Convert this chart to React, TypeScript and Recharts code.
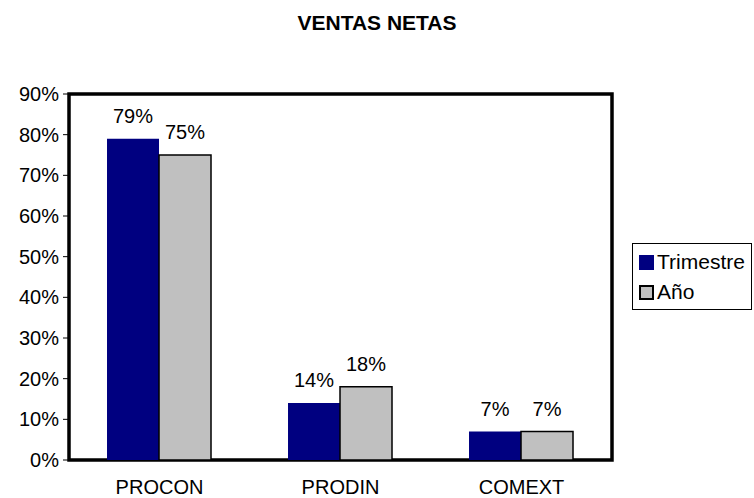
import { BarChart, Bar, XAxis, YAxis, LabelList, ReferenceArea, Legend } from "recharts";

const categories = ["PROCON", "PRODIN", "COMEXT"];
const trimestre = [0.79, 0.14, 0.07];
const anio = [0.75, 0.18, 0.07];
const yTicks = [0, 0.1, 0.2, 0.3, 0.4, 0.5, 0.6, 0.7, 0.8, 0.9];

const data = categories.map((name, i) => ({ name, trimestre: trimestre[i], anio: anio[i] }));

const FONT = "'Liberation Sans', Arial, sans-serif";
const pct = (v: number) => `${Math.round(v * 100)}%`;

const EmptyTick = () => <g />;

function LegendBox() {
  const items = [
    { label: "Trimestre", fill: "#000080", stroke: "#000080" },
    { label: "Año", fill: "#C0C0C0", stroke: "#000" },
  ];
  return (
    <div
      style={{
        border: "1px solid #000",
        background: "#fff",
        width: 120,
        height: 67,
        boxSizing: "border-box",
        padding: "3px 0 0 6px",
        fontFamily: FONT,
        fontSize: 21,
        color: "#000",
        whiteSpace: "nowrap",
      }}
    >
      {items.map((it) => (
        <div key={it.label} style={{ display: "flex", alignItems: "center", height: 30 }}>
          <span
            style={{
              display: "inline-block",
              width: 11,
              height: 11,
              background: it.fill,
              border: `2px solid ${it.stroke}`,
              marginRight: 3,
            }}
          />
          {it.label}
        </div>
      ))}
    </div>
  );
}

export default function App() {
  return (
    <div style={{ position: "absolute", left: 0, top: 0, width: 754, height: 498, background: "#fff" }}>
      <div
        style={{
          position: "absolute",
          left: 0,
          top: 12,
          width: 754,
          textAlign: "center",
          fontFamily: FONT,
          fontWeight: "bold",
          fontSize: 21,
          lineHeight: "22px",
        }}
      >
        VENTAS NETAS
      </div>
      <BarChart
        width={754}
        height={498}
        data={data}
        margin={{ top: 94, right: 20, left: 0, bottom: 0 }}
        barCategoryGap="21%"
        barGap={0}
      >
        <XAxis
          xAxisId="edges"
          type="number"
          domain={[0, 3]}
          ticks={[0, 1, 2, 3]}
          height={0}
          axisLine={false}
          tickSize={6}
          tickLine={{ stroke: "#000", strokeWidth: 1 }}
          tick={EmptyTick}
        />
        <XAxis
          dataKey="name"
          height={38}
          axisLine={false}
          tickLine={false}
          tick={{ fill: "#000", fontSize: 20, fontFamily: FONT }}
          tickMargin={14}
        />
        <YAxis
          width={69}
          domain={[0, 0.9]}
          ticks={yTicks}
          tickFormatter={pct}
          axisLine={false}
          tickSize={6}
          tickMargin={4}
          tickLine={{ stroke: "#000", strokeWidth: 1 }}
          tick={{ fill: "#000", fontSize: 20, fontFamily: FONT }}
        />
        <Legend
          layout="vertical"
          align="right"
          verticalAlign="top"
          wrapperStyle={{ left: 632, top: 243, width: 122 }}
          content={() => <LegendBox />}
        />
        <Bar dataKey="trimestre" name="Trimestre" fill="#000080" isAnimationActive={false}>
          <LabelList dataKey="trimestre" position="top" offset={16} formatter={(v: any) => pct(Number(v))} fill="#000" fontSize={20} fontFamily={FONT} />
        </Bar>
        <Bar dataKey="anio" name="Año" fill="#C0C0C0" stroke="#000" strokeWidth={1.5} isAnimationActive={false}>
          <LabelList dataKey="anio" position="top" offset={16} formatter={(v: any) => pct(Number(v))} fill="#000" stroke="none" fontSize={20} fontFamily={FONT} />
        </Bar>
        <ReferenceArea
          x1="PROCON"
          x2="COMEXT"
          y1={0}
          y2={0.9}
          fill="none"
          fillOpacity={0}
          stroke="#000"
          strokeWidth={3.5}
          ifOverflow="visible"
        />
      </BarChart>
    </div>
  );
}
